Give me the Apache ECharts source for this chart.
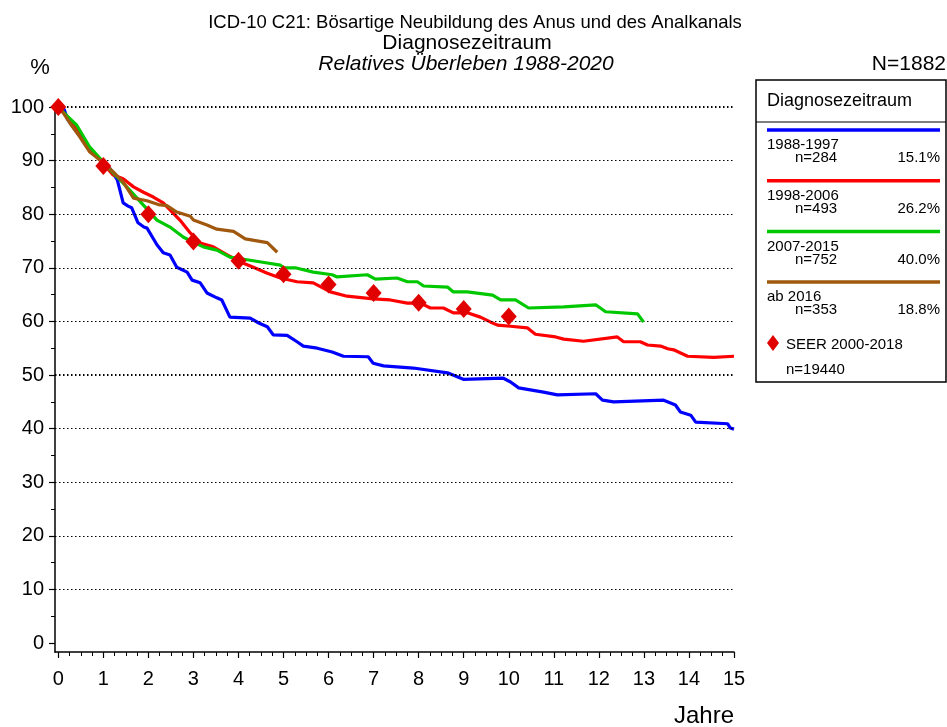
<!DOCTYPE html>
<html><head><meta charset="utf-8">
<script src="https://cdn.jsdelivr.net/npm/echarts@6/dist/echarts.min.js"></script>
<style>html,body{margin:0;padding:0;background:#fff}#c{width:947px;height:727px}</style>
</head><body><div id="c"></div>
<script>
// ---- data ----
const titleMain = 'ICD-10 C21: Bösartige Neubildung des Anus und des Analkanals';
const titleSub = 'Diagnosezeitraum';
const titleSub2 = 'Relatives Überleben 1988-2020';
const totalN = 'N=1882';
const yUnit = '%';
const xName = 'Jahre';
const legendTitle = 'Diagnosezeitraum';
const groupNames = ['1988-1997', '1998-2006', '2007-2015', 'ab 2016'];
const groupCounts = ['n=284', 'n=493', 'n=752', 'n=353'];
const groupShares = ['15.1%', '26.2%', '40.0%', '18.8%'];
const seerName = 'SEER 2000-2018';
const seerCount = 'n=19440';
const xTickLabels = [0,1,2,3,4,5,6,7,8,9,10,11,12,13,14,15];
const yTickLabels = [0,10,20,30,40,50,60,70,80,90,100];
const yMinorTicks = [5,15,25,35,45,55,65,75,85,95];
const xMinorTicks = [];
for (let i = 0; i <= 60; i++) if (i % 4) xMinorTicks.push(i / 4);

const g1988 = [[0,100],[0.13,99.6],[0.2,97.8],[0.35,96],[0.5,94.5],[0.7,92.3],[0.85,90.8],[1.0,89.6],[1.15,88.5],[1.31,86.4],[1.44,82.1],[1.55,81.5],[1.63,81.2],[1.77,78.4],[1.9,77.6],[1.97,77.4],[2.19,74.3],[2.33,72.8],[2.48,72.4],[2.63,70.1],[2.86,69.2],[2.97,67.7],[3.15,67.2],[3.3,65.3],[3.52,64.4],[3.63,64.0],[3.81,60.8],[4.26,60.6],[4.45,59.7],[4.64,59.0],[4.77,57.5],[5.08,57.4],[5.30,56.2],[5.44,55.4],[5.75,55.0],[6.08,54.3],[6.33,53.5],[6.88,53.4],[6.99,52.2],[7.22,51.7],[7.88,51.3],[8.64,50.4],[8.99,49.2],[9.88,49.4],[10.04,48.7],[10.22,47.6],[10.77,46.8],[11.08,46.3],[11.93,46.5],[12.08,45.3],[12.33,45.0],[13.44,45.3],[13.70,44.4],[13.81,43.1],[14.04,42.5],[14.15,41.2],[14.86,40.9],[14.92,40.1],[15.0,39.9]];
const g1998 = [[0,100],[0.19,98.3],[0.4,95.8],[0.6,93.5],[0.8,91.2],[1.0,89.4],[1.22,87.3],[1.44,86.6],[1.67,85.1],[1.89,84.1],[2.11,83.2],[2.33,82.1],[2.48,80.8],[2.7,78.9],[2.93,76.5],[3.15,74.6],[3.44,73.9],[3.75,72.4],[4.04,71.1],[4.33,70.1],[4.64,69.0],[4.93,68.1],[5.30,67.4],[5.66,67.2],[6.04,65.5],[6.41,64.7],[6.99,64.2],[7.37,64.0],[7.75,63.4],[8.04,63.4],[8.26,62.5],[8.55,62.5],[8.77,61.6],[9.08,61.6],[9.37,60.8],[9.59,59.9],[9.75,59.3],[10.04,59.1],[10.41,58.8],[10.59,57.6],[11.04,57.1],[11.22,56.7],[11.66,56.3],[12.41,57.1],[12.55,56.2],[12.92,56.2],[13.08,55.6],[13.37,55.4],[13.53,54.9],[13.66,54.7],[13.97,53.5],[14.55,53.3],[15.0,53.5]];
const g2007 = [[0,100],[0.2,98.3],[0.41,96.6],[0.7,92.5],[0.96,90.1],[1.22,87.7],[1.52,85.1],[1.89,81.7],[2.19,78.9],[2.48,77.6],[2.78,75.7],[3.0,74.8],[3.22,73.9],[3.52,73.3],[3.81,72.0],[4.19,71.5],[4.64,70.9],[4.93,70.5],[5.0,70.0],[5.26,70.0],[5.66,69.2],[6.08,68.7],[6.19,68.3],[6.86,68.7],[7.04,67.9],[7.52,68.1],[7.75,67.4],[7.97,67.4],[8.11,66.6],[8.64,66.4],[8.77,65.5],[9.08,65.5],[9.64,64.9],[9.82,64.0],[10.15,64.0],[10.44,62.5],[11.22,62.7],[11.93,63.1],[12.15,61.8],[12.86,61.4],[12.99,59.9]];
const g2016 = [[0,100],[0.11,98.9],[0.3,96.5],[0.48,94.4],[0.7,91.6],[1.0,89.6],[1.22,87.9],[1.44,86.0],[1.67,83.0],[1.97,82.5],[2.22,81.8],[2.41,81.6],[2.63,80.4],[2.93,79.6],[3.0,78.9],[3.30,78.0],[3.52,77.2],[3.89,76.8],[4.15,75.4],[4.64,74.7],[4.86,72.9]];
const seer = [[0,100],[1,89.0],[2,80.0],[3,74.9],[4,71.3],[5,68.8],[6,66.9],[7,65.3],[8,63.5],[9,62.3],[10,60.9]];
const gridLevels = [10,20,30,40,50,60,70,80,90,100];
const boldLevels = [50,100];

// ---- styles ----
const colors = ['#0000ff', '#ff0000', '#00c800', '#a0580f'];
const seerColor = '#e00000';
const FONT = '"Liberation Sans", Arial, sans-serif';
const groups = [g1988, g1998, g2007, g2016];

const chart = echarts.init(document.getElementById('c'), null, {renderer: 'canvas'});

const xMin = -0.073, yMin = -1.68;

const series = groups.map((d, i) => ({
  type: 'line', name: groupNames[i], data: d, showSymbol: false, symbol: 'none',
  lineStyle: {color: colors[i], width: 3.2}, z: 3 + i, animation: false
}));
series.push({
  type: 'scatter', name: seerName, data: seer, symbol: 'diamond', symbolSize: [16, 18],
  itemStyle: {color: seerColor, opacity: 1}, z: 10, animation: false,
  markLine: {
    silent: true, symbol: 'none', animation: false, label: {show: false},
    data: gridLevels.map(v => ({yAxis: v, lineStyle: {color: '#000', type: [1.5, 2.5], width: boldLevels.includes(v) ? 2 : 1.2}}))
  }
});

// legend graphics built from arrays
const lg = [];
const LX = 756, LY = 80, LW = 190, LH = 302;
lg.push({type: 'rect', shape: {x: LX, y: LY, width: LW, height: LH}, style: {fill: '#fff', stroke: '#000', lineWidth: 1.5}, z: 100});
lg.push({type: 'text', x: LX + 11, y: LY + 21, style: {text: legendTitle, font: '18px ' + FONT, fill: '#000', verticalAlign: 'middle'}, z: 101});
lg.push({type: 'line', shape: {x1: LX, y1: LY + 42, x2: LX + LW, y2: LY + 42}, style: {stroke: '#000', lineWidth: 1}, z: 101});
groupNames.forEach((nm, i) => {
  const y0 = LY + 50 + i * 50.7;
  lg.push({type: 'line', shape: {x1: LX + 11, y1: y0, x2: LX + 184, y2: y0}, style: {stroke: colors[i], lineWidth: 3.5}, z: 101});
  lg.push({type: 'text', x: LX + 11, y: y0 + 15, style: {text: nm, font: '15px ' + FONT, fill: '#000', verticalAlign: 'middle'}, z: 101});
  lg.push({type: 'text', x: LX + 39, y: y0 + 28, style: {text: groupCounts[i], font: '15px ' + FONT, fill: '#000', verticalAlign: 'middle'}, z: 101});
  lg.push({type: 'text', x: LX + 184, y: y0 + 28, style: {text: groupShares[i], font: '15px ' + FONT, fill: '#000', verticalAlign: 'middle', align: 'right'}, z: 101});
});
lg.push({type: 'polygon', shape: {points: [[LX + 17, LY + 255], [LX + 23, LY + 263], [LX + 17, LY + 271], [LX + 11, LY + 263]]}, style: {fill: seerColor}, z: 101});
lg.push({type: 'text', x: LX + 30, y: LY + 265, style: {text: seerName, font: '15px ' + FONT, fill: '#000', verticalAlign: 'middle'}, z: 101});
lg.push({type: 'text', x: LX + 30, y: LY + 290, style: {text: seerCount, font: '15px ' + FONT, fill: '#000', verticalAlign: 'middle'}, z: 101});

const texts = [
  {type: 'text', x: 475, y: 23, style: {text: titleMain, font: '18.5px ' + FONT, fill: '#000', align: 'center', verticalAlign: 'middle'}},
  {type: 'text', x: 467, y: 43, style: {text: titleSub, font: '21px ' + FONT, fill: '#000', align: 'center', verticalAlign: 'middle'}},
  {type: 'text', x: 466, y: 64, style: {text: titleSub2, font: 'italic 21px ' + FONT, fill: '#000', align: 'center', verticalAlign: 'middle'}},
  {type: 'text', x: 40, y: 68, style: {text: yUnit, font: '22px ' + FONT, fill: '#000', align: 'center', verticalAlign: 'middle'}},
  {type: 'text', x: 946, y: 64, style: {text: totalN, font: '21px ' + FONT, fill: '#000', align: 'right', verticalAlign: 'middle'}},
  {type: 'text', x: 734, y: 716, style: {text: xName, font: '24px ' + FONT, fill: '#000', align: 'right', verticalAlign: 'middle'}}
];

chart.setOption({
  animation: false,
  backgroundColor: '#fff',
  grid: {left: 55, right: 213, top: 107, bottom: 75, containLabel: false},
  xAxis: [
    {type: 'value', min: xMin, max: 15, axisLine: {show: true, onZero: false, lineStyle: {color: '#000', width: 1.5}},
     splitLine: {show: false},
     axisTick: {show: true, length: 6, customValues: xTickLabels, lineStyle: {color: '#000', width: 1.2}},
     axisLabel: {show: true, customValues: xTickLabels, margin: 17, color: '#000', fontSize: 20, fontFamily: FONT}},
    {type: 'value', position: 'bottom', min: xMin, max: 15, axisLine: {show: false, onZero: false},
     splitLine: {show: false}, axisLabel: {show: false},
     axisTick: {show: true, length: 4, customValues: xMinorTicks, lineStyle: {color: '#000', width: 1}}}
  ],
  yAxis: [
    {type: 'value', min: yMin, max: 100, axisLine: {show: true, onZero: false, lineStyle: {color: '#000', width: 1.5}},
     splitLine: {show: false},
     axisTick: {show: true, length: 6, customValues: yTickLabels, lineStyle: {color: '#000', width: 1.2}},
     axisLabel: {show: true, customValues: yTickLabels, margin: 11, color: '#000', fontSize: 20, fontFamily: FONT}},
    {type: 'value', position: 'left', min: yMin, max: 100, axisLine: {show: false, onZero: false},
     splitLine: {show: false}, axisLabel: {show: false},
     axisTick: {show: true, length: 4, customValues: yMinorTicks, lineStyle: {color: '#000', width: 1}}}
  ],
  series: series,
  graphic: texts.concat(lg)
});
</script></body></html>
